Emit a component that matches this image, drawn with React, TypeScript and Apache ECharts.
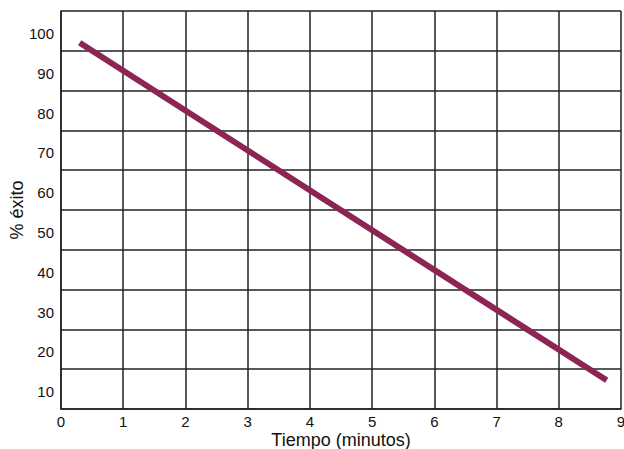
import React, { useEffect, useRef } from "react";
import * as echarts from "echarts";

const lineX: number[] = [0.3, 8.77];
const lineY: number[] = [97, 12.2];
const yTickLabels: number[] = [10, 20, 30, 40, 50, 60, 70, 80, 90, 100];
const xTickLabels: number[] = [0, 1, 2, 3, 4, 5, 6, 7, 8, 9];

export default function App() {
  const ref = useRef<HTMLDivElement>(null);
  useEffect(() => {
    if (!ref.current) return;
    const chart = echarts.init(ref.current, null, { renderer: "svg" });
    const font = "'Liberation Sans', Arial, Helvetica, sans-serif";
    chart.setOption({
      animation: false,
      grid: { left: 61, right: 3, top: 11, bottom: 40, containLabel: false, outerBoundsMode: "none" },
      xAxis: {
        type: "value",
        min: 0,
        max: 9,
        interval: 1,
        name: "Tiempo (minutos)",
        nameLocation: "middle",
        nameGap: 22,
        nameMoveOverlap: false,
        nameTextStyle: { fontFamily: font, fontSize: 18, color: "#111", lineHeight: 18 },
        axisLine: { show: true, lineStyle: { color: "#222", width: 1.5 } },
        axisTick: { show: false },
        axisLabel: {
          customValues: xTickLabels,
          fontFamily: font,
          fontSize: 15,
          color: "#111",
          margin: 5,
          showMinLabel: true,
          showMaxLabel: true,
        },
        splitLine: { show: true, lineStyle: { color: "#222", width: 1.5 } },
      },
      yAxis: {
        type: "value",
        min: 5,
        max: 105,
        interval: 10,
        name: "% éxito",
        nameLocation: "middle",
        nameGap: 35,
        nameMoveOverlap: false,
        nameRotate: 90,
        nameTextStyle: { fontFamily: font, fontSize: 18, color: "#111" },
        axisLine: { show: true, lineStyle: { color: "#222", width: 1.5 } },
        axisTick: { show: false },
        axisLabel: {
          customValues: yTickLabels,
          fontFamily: font,
          fontSize: 15,
          color: "#111",
          margin: 7,
          verticalAlign: "top",
          lineHeight: 5,
        },
        splitLine: { show: true, lineStyle: { color: "#222", width: 1.5 } },
      },
      series: [
        {
          type: "line",
          data: lineX.map((x, i) => [x, lineY[i]]),
          showSymbol: false,
          lineStyle: { color: "#8c2553", width: 6 },
          silent: true,
        },
      ],
    });
    return () => chart.dispose();
  }, []);
  return <div ref={ref} style={{ width: 624, height: 449, position: "absolute", left: 0, top: 0 }} />;
}
